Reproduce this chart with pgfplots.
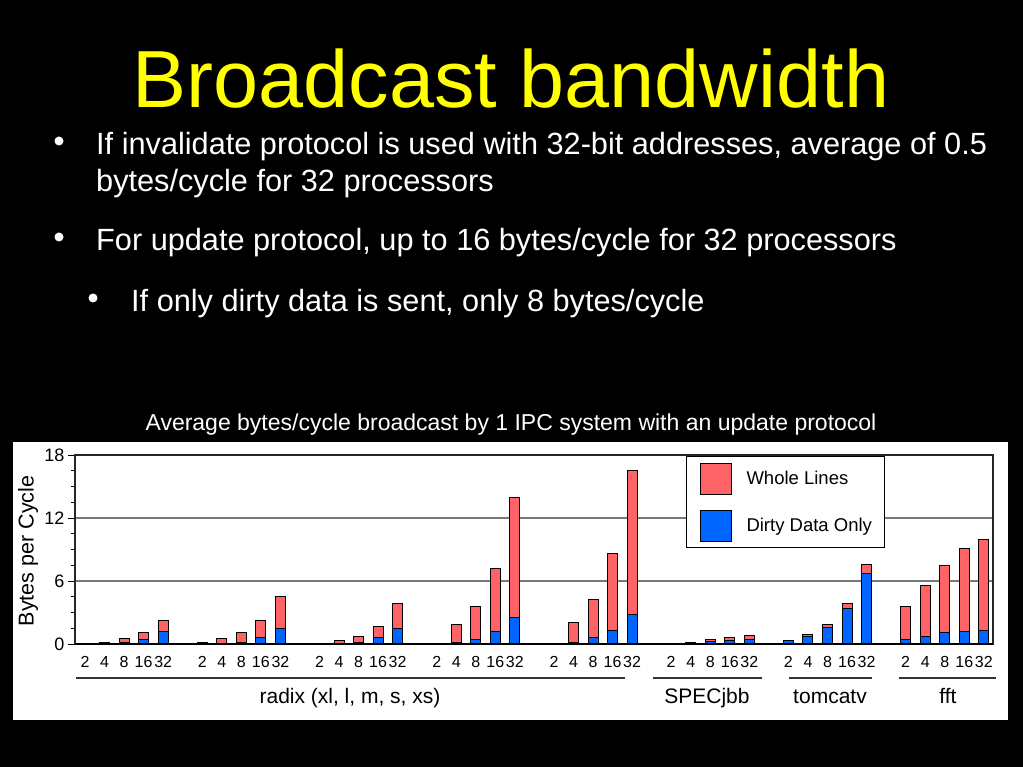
\documentclass[border=0pt]{standalone}
\usepackage{pgfplots}
\pgfplotsset{compat=1.18}
\usepackage{pgfplotstable}
\usepackage{fontspec}
\setmainfont{Liberation Sans}

\definecolor{slideyellow}{RGB}{255,255,0}
\definecolor{wholered}{RGB}{255,99,104}
\definecolor{dirtyblue}{RGB}{0,102,255}
\definecolor{gridgray}{RGB}{120,120,120}

% processors 2,4,8,16,32 per group; groups: radix xl,l,m,s,xs, SPECjbb, tomcatv, fft
\pgfplotstableread{
x  whole dirty
0  0     0
1  0.15  0.12
2  0.48  0.12
3  1.07  0.45
4  2.20  1.17
6  0.15  0.12
7  0.48  0.05
8  1.07  0.15
9  2.20  0.60
10 4.57  1.46
12 0     0
13 0.35  0.05
14 0.76  0.15
15 1.62  0.60
16 3.81  1.46
18 0     0
19 1.81  0.10
20 3.56  0.45
21 7.17  1.17
22 13.97 2.48
24 0     0
25 2.06  0.10
26 4.25  0.63
27 8.60  1.33
28 16.57 2.79
30 0.05  0.03
31 0.15  0.10
32 0.45  0.20
33 0.63  0.38
34 0.80  0.45
36 0.37  0.35
37 0.95  0.76
38 1.81  1.59
39 3.84  3.40
40 7.59  6.73
42 3.56  0.45
43 5.56  0.76
44 7.43  1.05
45 9.05  1.21
46 9.94  1.30
}\bwdata

\begin{document}
\begin{tikzpicture}
\fill[black] (0pt,0pt) rectangle (1023pt,-767pt);

\node[anchor=base, text=slideyellow, font=\fontsize{81}{90}\selectfont, inner sep=0pt]
  at (511pt,-108pt) {Broadcast bandwidth};

\begin{scope}[every node/.style={anchor=base west, text=white, inner sep=0pt, font=\fontsize{30.7}{36}\selectfont}]
\fill[white] (59pt,-141pt) circle (4.5pt);
\node at (96pt,-155pt) {If invalidate protocol is used with 32-bit addresses, average of 0.5};
\node at (96pt,-192pt) {bytes/cycle for 32 processors};
\fill[white] (59pt,-237pt) circle (4.5pt);
\node at (96pt,-251pt) {For update protocol, up to 16 bytes/cycle for 32 processors};
\fill[white] (93pt,-298pt) circle (4.5pt);
\node at (131pt,-312pt) {If only dirty data is sent, only 8 bytes/cycle};
\end{scope}

\node[anchor=base, text=white, inner sep=0pt, font=\fontsize{23}{27}\selectfont]
  at (511pt,-430pt) {Average bytes/cycle broadcast by 1 IPC system with an update protocol};

\fill[white] (13pt,-442pt) rectangle (1008pt,-720pt);

\begin{axis}[
  at={(75pt,-644pt)}, anchor=south west,
  scale only axis, width=918pt, height=189pt,
  xmin=-0.512, xmax=46.47, ymin=0, ymax=18,
  ybar, bar width=10pt, bar shift=0pt,
  axis line style={black!85, line width=1.3pt},
  ytick={0,6,12,18}, minor y tick num=3,
  ytick pos=left, tick align=outside,
  major tick length=7pt, minor tick length=4pt,
  tick style={black, line width=1pt},
  ymajorgrids, grid style={gridgray, line width=1.2pt},
  xtick={0,1,2,3,4,6,7,8,9,10,12,13,14,15,16,18,19,20,21,22,24,25,26,27,28,30,31,32,33,34,36,37,38,39,40,42,43,44,45,46},
  xticklabels={2,4,8,16,32,2,4,8,16,32,2,4,8,16,32,2,4,8,16,32,2,4,8,16,32,2,4,8,16,32,2,4,8,16,32,2,4,8,16,32},
  xtick style={draw=none},
  /pgf/number format/assume math mode=true,
  yticklabel style={font=\fontsize{18}{20}\selectfont},
  xticklabel style={font=\fontsize{16}{18}\selectfont, text height=11.5pt, text depth=0pt, yshift=-1pt},
  legend image code/.code={\draw[#1, line width=1pt] (0pt,-15.5pt) rectangle (31pt,15.5pt);},
  legend cell align=left,
  legend style={at={(rel axis cs:0.6656,0.9947)}, anchor=north west,
    draw=black, line width=1pt, fill=white,
    inner xsep=13pt, inner ysep=6pt, row sep=15pt, column sep=15pt,
    font=\fontsize{18.5}{22}\selectfont,
    nodes={inner sep=0pt}},
]
\addplot[fill=wholered, draw=black, line width=1pt] table[x=x, y=whole] {\bwdata};
\addlegendentry{Whole Lines}
\addplot[fill=dirtyblue, draw=black, line width=1pt] table[x=x, y=dirty] {\bwdata};
\addlegendentry{Dirty Data Only}
\draw[black, line width=2pt] (rel axis cs:0,0) -- (rel axis cs:1,0);
\end{axis}

\node[rotate=90, inner sep=0pt, font=\fontsize{21.5}{24}\selectfont] at (28pt,-551pt) {Bytes per Cycle};

\begin{scope}[line width=2pt, draw=black!80]
\draw (76pt,-678pt) -- (625pt,-678pt);
\draw (653pt,-678pt) -- (762pt,-678pt);
\draw (789pt,-678pt) -- (872pt,-678pt);
\draw (899pt,-678pt) -- (996pt,-678pt);
\end{scope}
\begin{scope}[every node/.style={anchor=base, inner sep=0pt, font=\fontsize{21}{25}\selectfont}]
\node at (350pt,-703pt) {radix (xl, l, m, s, xs)};
\node at (707pt,-703pt) {SPECjbb};
\node at (830pt,-703pt) {tomcatv};
\node at (948pt,-703pt) {fft};
\end{scope}
\end{tikzpicture}
\end{document}
